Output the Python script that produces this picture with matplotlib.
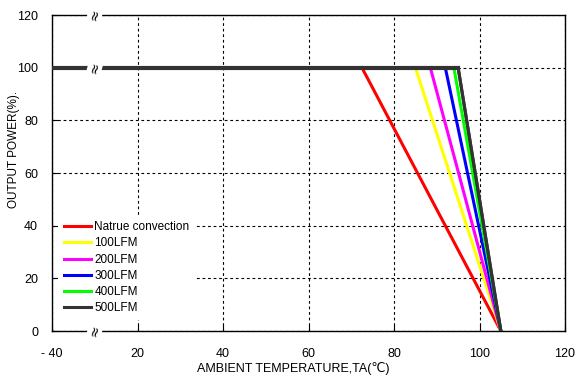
import numpy as np
import matplotlib
matplotlib.use('Agg')
import matplotlib.pyplot as plt

plt.rcParams['font.family'] = ['Liberation Sans', 'DejaVu Sans']

# derating curves: flat 100% until the knee, then linear to 0% at 105C
labels = ['Natrue convection', '100LFM', '200LFM', '300LFM', '400LFM', '500LFM']
colors = ['#ff0000', '#ffff00', '#ff00ff', '#0000ff', '#00ff00', '#333333']
knee_temp = [72.5, 85, 88.5, 92, 94, 95]
end_temp = 105
start_temp = -40
full_power = 100

x_ticks = [-40, 20, 40, 60, 80, 100, 120]
y_ticks = [0, 20, 40, 60, 80, 100, 120]
break_temp = -10


# broken axis: -40..20 squeezed into the width of 20 degrees
def fwd(t):
    t = np.asarray(t, dtype=float)
    return np.where(t < 20, 20 + (t - 20) / 3.0, t)


def inv(u):
    u = np.asarray(u, dtype=float)
    return np.where(u < 20, 20 + (u - 20) * 3.0, u)


fig = plt.figure(figsize=(5.76, 3.79), dpi=100)
ax = fig.add_axes([52 / 576, 1 - 331 / 379, 513 / 576, 316 / 379])
ax.set_xscale('function', functions=(fwd, inv))

for lab, c, k in zip(labels, colors, knee_temp):
    ax.plot([k, end_temp], [full_power, 0], color=c, lw=2.2, label=lab, zorder=3)

ax.plot([start_temp, knee_temp[-1]], [full_power, full_power], color=colors[-1], lw=3, zorder=4)
ax.plot([knee_temp[-1], end_temp], [full_power, 0], color=colors[-1], lw=2.2, zorder=4)

ax.set_xlim(-40, 120)
ax.set_ylim(0, 120)
ax.set_xticks(x_ticks)
ax.set_xticklabels(['- 40' if v < 0 else str(v) for v in x_ticks])
ax.set_yticks(y_ticks)
ax.tick_params(direction='in', length=4, labelsize=9)
ax.tick_params(axis='x', pad=12)
ax.tick_params(axis='y', pad=10)
ax.grid(True, color='black', linestyle=(0, (2.5, 2.5)), lw=0.8)
ax.set_axisbelow(True)

for sp in ax.spines.values():
    sp.set_linewidth(1.0)

# break marks
for yb in [0, full_power, 120]:
    ax.text(break_temp, yb, '\u2248', rotation=75, ha='center', va='center',
            fontsize=10, family='DejaVu Sans', zorder=6,
            bbox=dict(fc='white', ec='none', pad=0.2))

ax.set_xlabel('AMBIENT TEMPERATURE,TA(\u2103)', fontsize=9)
ax.xaxis.set_label_coords(0.47, -0.097)
ax.set_ylabel('OUTPUT POWER(%).', fontsize=8.5)
ax.yaxis.set_label_coords(-0.063, 0.573)

leg = ax.legend(loc='lower left', bbox_to_anchor=(0.0, 0.015), fontsize=8.5,
                frameon=True, framealpha=1, edgecolor='none', fancybox=False,
                handlelength=2.3, handletextpad=0.3, labelspacing=0.36, borderpad=0.5)
leg.set_zorder(5)

fig.savefig('out.png', dpi=100)
